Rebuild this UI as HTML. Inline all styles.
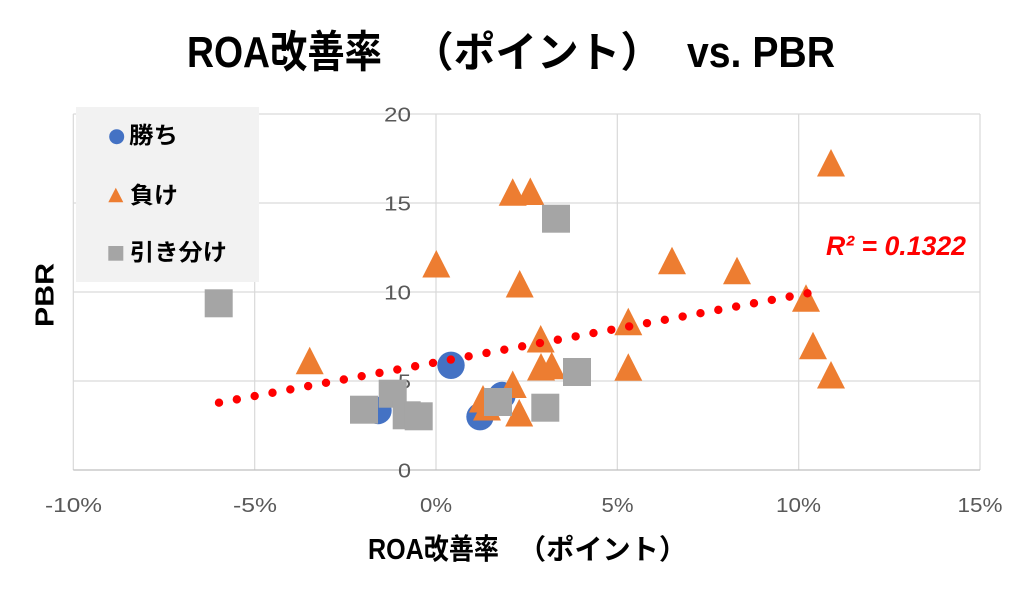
<!DOCTYPE html>
<html>
<head>
<meta charset="utf-8">
<style>
  html,body{margin:0;padding:0;background:#fff;}
  svg{display:block;}
  text{font-family:"Liberation Sans","Noto Sans CJK JP",sans-serif;}
</style>
</head>
<body>
<svg width="1024" height="596" viewBox="0 0 1024 596" xmlns="http://www.w3.org/2000/svg">
  <rect width="1024" height="596" fill="#ffffff"/>

  <!-- Title -->
  <text x="187" y="67" font-size="44" font-weight="bold" fill="#000" textLength="195" lengthAdjust="spacingAndGlyphs">ROA改善率</text>
  <text x="412" y="67" font-size="42" font-weight="bold" fill="#000" textLength="250" lengthAdjust="spacingAndGlyphs">（ポイント）</text>
  <text x="687" y="67" font-size="44" font-weight="bold" fill="#000" textLength="148" lengthAdjust="spacingAndGlyphs">vs. PBR</text>

  <!-- Gridlines -->
  <g stroke="#d9d9d9" stroke-width="1.2" fill="none">
    <line x1="73.3" y1="114" x2="980" y2="114"/>
    <line x1="73.3" y1="203" x2="980" y2="203"/>
    <line x1="73.3" y1="292" x2="980" y2="292"/>
    <line x1="73.3" y1="381" x2="980" y2="381"/>
    <line x1="73.3" y1="114" x2="73.3" y2="470"/>
    <line x1="254.7" y1="114" x2="254.7" y2="470"/>
    <line x1="436" y1="114" x2="436" y2="470"/>
    <line x1="617.3" y1="114" x2="617.3" y2="470"/>
    <line x1="798.7" y1="114" x2="798.7" y2="470"/>
    <line x1="980" y1="114" x2="980" y2="470"/>
  </g>
  <line x1="73.3" y1="470" x2="980" y2="470" stroke="#bfbfbf" stroke-width="1.3"/>

  <!-- Y tick labels -->
  <g font-size="20" fill="#595959">
    <text x="384" y="121.5" textLength="27" lengthAdjust="spacingAndGlyphs">20</text>
    <text x="384" y="210.5" textLength="27" lengthAdjust="spacingAndGlyphs">15</text>
    <text x="384" y="299.5" textLength="27" lengthAdjust="spacingAndGlyphs">10</text>
    <text x="398" y="388.5" textLength="13" lengthAdjust="spacingAndGlyphs">5</text>
    <text x="398" y="477.5" textLength="13" lengthAdjust="spacingAndGlyphs">0</text>
  </g>

  <!-- X tick labels -->
  <g font-size="20" fill="#595959">
    <text x="45" y="512" textLength="57" lengthAdjust="spacingAndGlyphs">-10%</text>
    <text x="233" y="512" textLength="44" lengthAdjust="spacingAndGlyphs">-5%</text>
    <text x="420" y="512" textLength="32" lengthAdjust="spacingAndGlyphs">0%</text>
    <text x="601.5" y="512" textLength="32" lengthAdjust="spacingAndGlyphs">5%</text>
    <text x="776" y="512" textLength="45" lengthAdjust="spacingAndGlyphs">10%</text>
    <text x="957.5" y="512" textLength="45" lengthAdjust="spacingAndGlyphs">15%</text>
  </g>

  <!-- Axis titles -->
  <text x="368" y="559" font-size="29" font-weight="bold" fill="#000" textLength="131" lengthAdjust="spacingAndGlyphs">ROA改善率</text>
  <text x="518" y="559" font-size="28" font-weight="bold" fill="#000" textLength="169" lengthAdjust="spacingAndGlyphs">（ポイント）</text>
  <text transform="translate(53.3,327) rotate(-90)" x="0" y="0" font-size="26" font-weight="bold" fill="#000" textLength="64" lengthAdjust="spacingAndGlyphs">PBR</text>

  <!-- Legend -->
  <rect x="76" y="107" width="183" height="175" fill="#f2f2f2"/>
  <circle cx="116.7" cy="136.7" r="7.5" fill="#4472C4"/>
  <polygon points="115.8,187.7 123.3,202.3 108.3,202.3" fill="#ED7D31"/>
  <rect x="108.3" y="246" width="15" height="14.7" fill="#A5A5A5"/>
  <g font-size="23" font-weight="bold" fill="#000">
    <text x="129" y="143" textLength="49" lengthAdjust="spacingAndGlyphs">勝ち</text>
    <text x="130" y="203" textLength="48" lengthAdjust="spacingAndGlyphs">負け</text>
    <text x="130" y="260" textLength="97" lengthAdjust="spacingAndGlyphs">引き分け</text>
  </g>

  <!-- Series: 勝ち (circles) -->
  <g fill="#4472C4">
    <circle cx="451" cy="365.3" r="13.7"/>
    <circle cx="378" cy="410.5" r="13.7"/>
    <circle cx="480" cy="416.7" r="13.7"/>
    <circle cx="502" cy="395.5" r="13.7"/>
  </g>

  <!-- Series: 負け (triangles) -->
  <g fill="#ED7D31">
    <polygon points="309.7,346.7 323.7,374.2 295.7,374.2"/>
    <polygon points="436.3,250 450.3,277.5 422.3,277.5"/>
    <polygon points="512.7,178.3 526.7,205.8 498.7,205.8"/>
    <polygon points="530.3,177.5 544.3,205 516.3,205"/>
    <polygon points="519.7,270 533.7,297.5 505.7,297.5"/>
    <polygon points="540.7,325 554.7,352.5 526.7,352.5"/>
    <polygon points="541,353 555,380.5 527,380.5"/>
    <polygon points="551.7,351.7 565.7,379.2 537.7,379.2"/>
    <polygon points="512.7,370.5 526.7,398 498.7,398"/>
    <polygon points="519.2,399 533.2,426.5 505.2,426.5"/>
    <polygon points="483,385 497,412.5 469,412.5"/>
    <polygon points="487,393 501,420.5 473,420.5"/>
    <polygon points="628.3,307.7 642.3,335.2 614.3,335.2"/>
    <polygon points="628.3,353.3 642.3,380.8 614.3,380.8"/>
    <polygon points="672,246.7 686,274.2 658,274.2"/>
    <polygon points="737,256.7 751,284.2 723,284.2"/>
    <polygon points="806,284.3 820,311.8 792,311.8"/>
    <polygon points="813,331.7 827,359.2 799,359.2"/>
    <polygon points="831,149 845,176.5 817,176.5"/>
    <polygon points="831,361 845,388.5 817,388.5"/>
  </g>

  <!-- Series: 引き分け (squares) -->
  <g fill="#A5A5A5">
    <rect x="204.7" y="289.3" width="28" height="28"/>
    <rect x="350" y="395.7" width="28" height="28"/>
    <rect x="378.7" y="379.7" width="28" height="28"/>
    <rect x="392.7" y="401.3" width="28" height="28"/>
    <rect x="404.7" y="402.3" width="28" height="28"/>
    <rect x="484" y="388" width="28" height="28"/>
    <rect x="531.3" y="393.7" width="28" height="28"/>
    <rect x="563" y="358" width="28" height="28"/>
    <rect x="542" y="204.7" width="28" height="28"/>
  </g>

  <!-- Trendline -->
  <line x1="219" y1="402.7" x2="825.3" y2="290" stroke="#ff0000" stroke-width="8.4" stroke-linecap="round" stroke-dasharray="0 18.138"/>

  <!-- R squared -->
  <text x="826" y="255" font-size="27" font-weight="bold" font-style="italic" fill="#ff0000" textLength="140" lengthAdjust="spacingAndGlyphs">R² = 0.1322</text>
</svg>
</body>
</html>
